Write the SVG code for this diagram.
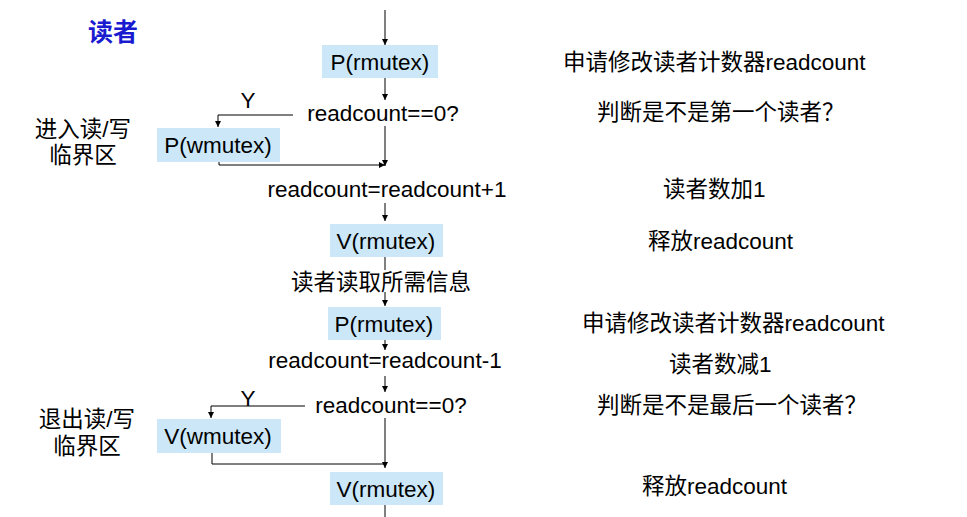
<svg xmlns="http://www.w3.org/2000/svg" width="967" height="517" viewBox="0 0 967 517">
<defs>
<marker id="a" viewBox="0 0 6 8" refX="6" refY="4" markerWidth="6" markerHeight="8" markerUnits="userSpaceOnUse" orient="auto"><path d="M0,1 L6,4 L0,7 z" fill="#000"/></marker>
<style>
.b{fill:#cce8f8}
.t{font-family:"Liberation Sans","Noto Sans CJK SC",sans-serif;font-size:22.5px;fill:#000;text-anchor:middle}
.c{font-family:"Liberation Sans","Noto Sans CJK SC",sans-serif;font-size:22.5px;fill:#000}
.l{stroke:#000;stroke-width:1;fill:none}
</style>
</defs>
<rect width="967" height="517" fill="#fff"/>
<text x="88" y="41" style="font-family:'Noto Sans CJK SC',sans-serif;font-size:25px;font-weight:bold;fill:#1a1ad0">读者</text>
<g id="n1"><rect class="b" x="322" y="45" width="116" height="33"/><text class="t" x="380" y="70">P(rmutex)</text></g>
<g id="n2"><text class="t" x="383" y="121">readcount==0?</text></g>
<g id="n3"><rect class="b" x="157" y="128" width="123" height="34"/><text class="t" x="218" y="153">P(wmutex)</text></g>
<g id="n4"><text class="t" x="387" y="197">readcount=readcount+1</text></g>
<g id="n5"><rect class="b" x="330" y="224" width="113" height="33"/><text class="t" x="386" y="249">V(rmutex)</text></g>
<g id="n6"><text class="t" x="381" y="290">读者读取所需信息</text></g>
<g id="n7"><rect class="b" x="328" y="307" width="113" height="33"/><text class="t" x="384" y="332">P(rmutex)</text></g>
<g id="n8"><text class="t" x="385" y="368">readcount=readcount-1</text></g>
<g id="n9"><text class="t" x="391" y="413">readcount==0?</text></g>
<g id="n10"><rect class="b" x="157" y="419" width="124" height="34"/><text class="t" x="218" y="444">V(wmutex)</text></g>
<g id="n11"><rect class="b" x="330" y="472" width="113" height="33"/><text class="t" x="386" y="497">V(rmutex)</text></g>
<g id="notes">
<text class="c" x="563" y="70">申请修改读者计数器readcount</text>
<text class="c" x="597" y="120">判断是不是第一个读者？</text>
<text class="c" x="663" y="197">读者数加1</text>
<text class="c" x="648" y="249">释放readcount</text>
<text class="c" x="582" y="331">申请修改读者计数器readcount</text>
<text class="c" x="669" y="372">读者数减1</text>
<text class="c" x="597" y="413">判断是不是最后一个读者？</text>
<text class="c" x="642" y="494">释放readcount</text>
<text class="t" x="83" y="137">进入读/写</text>
<text class="t" x="83" y="163">临界区</text>
<text class="t" x="87" y="427">退出读/写</text>
<text class="t" x="87" y="454">临界区</text>
<text class="t" x="248" y="108">Y</text>
<text class="t" x="248" y="406">Y</text>
</g>
<g id="connectors">
<path class="l" d="M385,10 V45" marker-end="url(#a)"/>
<path class="l" d="M385,78 V100" marker-end="url(#a)"/>
<path class="l" d="M293,115 H218 V127" marker-end="url(#a)"/>
<path class="l" d="M385,126 V166" marker-end="url(#a)"/>
<path class="l" d="M219,162 V165 H385" marker-end="url(#a)"/>
<path class="l" d="M385,203 V221" marker-end="url(#a)"/>
<path class="l" d="M385,257 V270"/>
<path class="l" d="M385,292 V306" marker-end="url(#a)"/>
<path class="l" d="M385,340 V350" marker-end="url(#a)"/>
<path class="l" d="M385,376 V392" marker-end="url(#a)"/>
<path class="l" d="M305,406 H211 V418" marker-end="url(#a)"/>
<path class="l" d="M385,418 V468" marker-end="url(#a)"/>
<path class="l" d="M212,453 V464 H385"/>
<path class="l" d="M385,505 V517"/>
</g>
</svg>
